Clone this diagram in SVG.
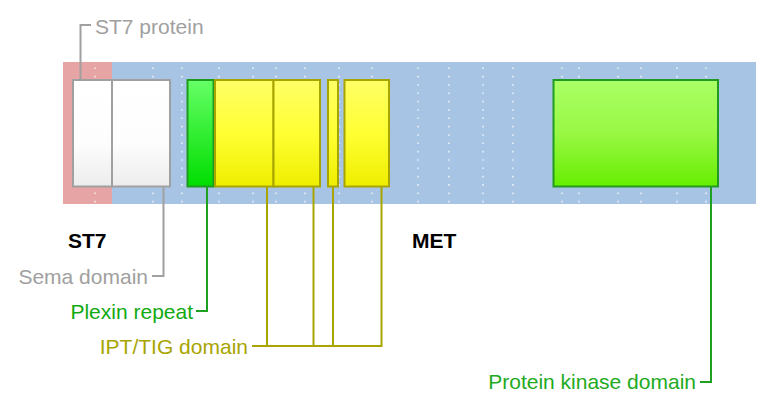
<svg xmlns="http://www.w3.org/2000/svg" width="764" height="398" viewBox="0 0 764 398">
<style>
text{font-family:"Liberation Sans",Arial,sans-serif;font-size:21px}
.b{font-weight:bold;fill:#000}
.dot{stroke:#fff;stroke-width:1.6;stroke-dasharray:1.6 6.73;opacity:0.75}
.box{stroke-width:2}
.c{fill:none;stroke-width:2}
</style>
<defs>
<linearGradient id="gw" x1="0" y1="0" x2="0" y2="1"><stop offset="0" stop-color="#ffffff"/><stop offset="0.6" stop-color="#fdfdfd"/><stop offset="1" stop-color="#ececec"/></linearGradient>
<linearGradient id="gg" x1="0" y1="0" x2="0" y2="1"><stop offset="0" stop-color="#66ff66"/><stop offset="1" stop-color="#00dd00"/></linearGradient>
<linearGradient id="gy" x1="0" y1="0" x2="0" y2="1"><stop offset="0" stop-color="#ffff66"/><stop offset="0.5" stop-color="#ffff33"/><stop offset="1" stop-color="#eeee00"/></linearGradient>
<linearGradient id="gk" x1="0" y1="0" x2="0" y2="1"><stop offset="0" stop-color="#aaff66"/><stop offset="0.5" stop-color="#99f844"/><stop offset="1" stop-color="#66ee00"/></linearGradient>
</defs>
<g id="background">
<rect x="63" y="62" width="49" height="142" fill="#e6a4a4"/>
<rect x="112" y="62" width="644" height="142" fill="#a8c4e4"/>
</g>
<g id="grid">
<line class="dot" x1="95" y1="67.5" x2="95" y2="203"/>
<line class="dot" x1="153" y1="67.5" x2="153" y2="203"/>
<line class="dot" x1="182" y1="67.5" x2="182" y2="203"/>
<line class="dot" x1="219" y1="67.5" x2="219" y2="203"/>
<line class="dot" x1="253" y1="67.5" x2="253" y2="203"/>
<line class="dot" x1="276" y1="67.5" x2="276" y2="203"/>
<line class="dot" x1="305" y1="67.5" x2="305" y2="203"/>
<line class="dot" x1="339" y1="67.5" x2="339" y2="203"/>
<line class="dot" x1="372" y1="67.5" x2="372" y2="203"/>
<line class="dot" x1="418" y1="67.5" x2="418" y2="203"/>
<line class="dot" x1="449" y1="67.5" x2="449" y2="203"/>
<line class="dot" x1="483" y1="67.5" x2="483" y2="203"/>
<line class="dot" x1="513" y1="67.5" x2="513" y2="203"/>
<line class="dot" x1="562" y1="67.5" x2="562" y2="203"/>
<line class="dot" x1="579" y1="67.5" x2="579" y2="203"/>
<line class="dot" x1="618" y1="67.5" x2="618" y2="203"/>
<line class="dot" x1="641" y1="67.5" x2="641" y2="203"/>
<line class="dot" x1="677" y1="67.5" x2="677" y2="203"/>
<line class="dot" x1="706" y1="67.5" x2="706" y2="203"/>
</g>
<g id="st7-protein"><rect class="box" x="73" y="80" width="39" height="106.5" fill="url(#gw)" stroke="#a0a0a0"/></g>
<g id="sema-domain"><rect class="box" x="112" y="80" width="58" height="106.5" fill="url(#gw)" stroke="#a0a0a0"/></g>
<g id="plexin-repeat"><rect class="box" x="187.5" y="80" width="26" height="106.5" fill="url(#gg)" stroke="#1e9a1e"/></g>
<g id="ipt1"><rect class="box" x="215" y="80" width="58.5" height="106.5" fill="url(#gy)" stroke="#a8a400"/></g>
<g id="ipt2"><rect class="box" x="273.5" y="80" width="46.5" height="106.5" fill="url(#gy)" stroke="#a8a400"/></g>
<g id="ipt3"><rect class="box" x="328" y="80" width="10" height="106.5" fill="url(#gy)" stroke="#a8a400"/></g>
<g id="ipt4"><rect class="box" x="344.5" y="80" width="44.5" height="106.5" fill="url(#gy)" stroke="#a8a400"/></g>
<g id="kinase"><rect class="box" x="553.5" y="80" width="164.5" height="106.5" fill="url(#gk)" stroke="#229922"/></g>
<g id="connectors">
<polyline class="c" stroke="#a0a0a0" points="80.5,80 80.5,25 91,25"/>
<polyline class="c" stroke="#a0a0a0" points="163.5,187 163.5,276 152,276"/>
<polyline class="c" stroke="#20a020" points="207,187 207,311 196,311"/>
<polyline class="c" stroke="#a8a400" points="267,187 267,346 252,346"/>
<polyline class="c" stroke="#a8a400" points="313.5,187 313.5,346"/>
<polyline class="c" stroke="#a8a400" points="333,187 333,346"/>
<polyline class="c" stroke="#a8a400" points="381.5,187 381.5,346 267,346"/>
<polyline class="c" stroke="#20a020" points="711,187 711,382 700,382"/>
</g>
<g id="labels">
<text x="95" y="33.5" fill="#a0a0a0">ST7 protein</text>
<text class="b" x="68" y="248">ST7</text>
<text class="b" x="412" y="248">MET</text>
<text x="148" y="283.5" fill="#a0a0a0" text-anchor="end">Sema domain</text>
<text x="193" y="318.5" fill="#11aa11" text-anchor="end">Plexin repeat</text>
<text x="248" y="353.5" fill="#a8a400" text-anchor="end">IPT/TIG domain</text>
<text x="696" y="389" fill="#22aa22" text-anchor="end">Protein kinase domain</text>
</g>
</svg>
